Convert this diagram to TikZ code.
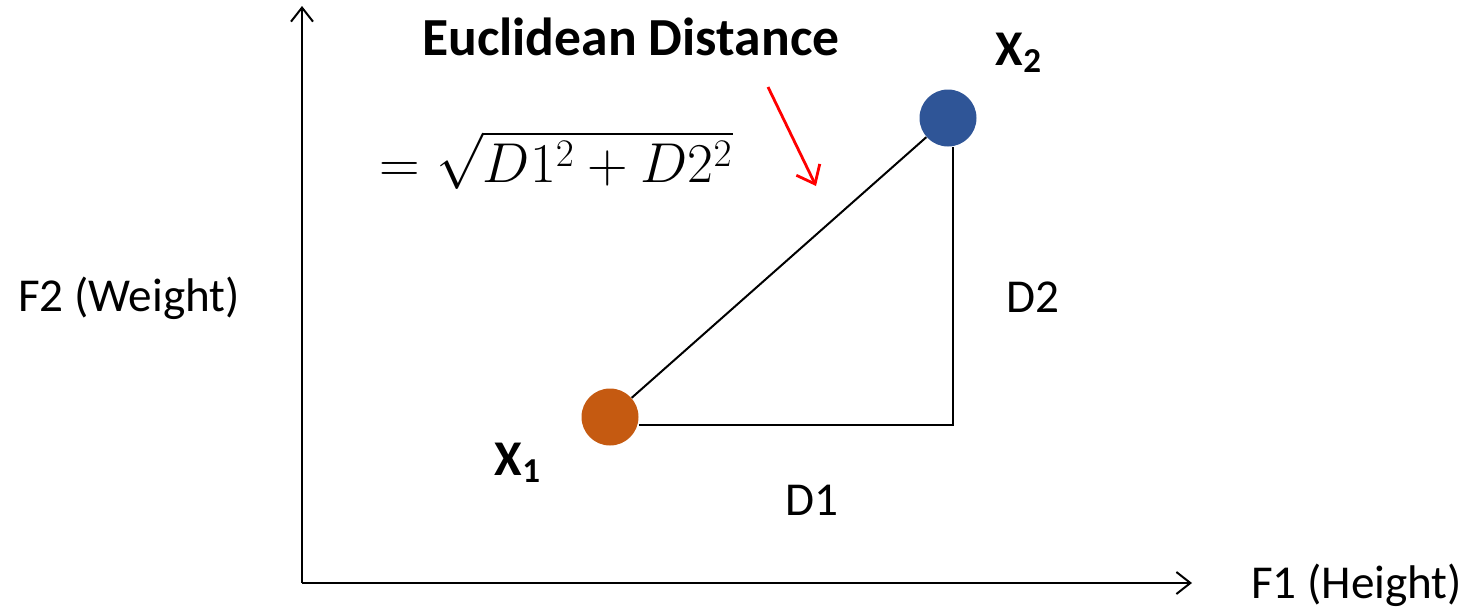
\documentclass[tikz,border=0pt]{standalone}
\usepackage{amsmath}
\usepackage{fontspec}
\setmainfont{Carlito}
\usetikzlibrary{arrows.meta}

\definecolor{ptorange}{HTML}{C55A11}
\definecolor{ptblue}{HTML}{2F5597}

\begin{document}
\begin{tikzpicture}[x=0.5pt, y=-0.5pt, >={Straight Barb[length=7pt, width=11pt]},
    axis/.style={->, line width=1pt},
    edge/.style={line width=1pt},
    pt/.style={circle, inner sep=0pt, minimum size=28.5pt},
    lbl/.style={font=\fontsize{23.6}{28}\selectfont},
    ptlbl/.style={font=\fontsize{25}{30}\selectfont\bfseries}]
  \useasboundingbox (0,0) rectangle (1463,611);
  % axes
  \coordinate (O) at (302,583);
  \coordinate (ytop) at (302,6);
  \coordinate (xend) at (1192,583);
  \draw[axis] (O) -- (ytop);
  \draw[axis] (O) -- (xend);
  \node[lbl, anchor=west] (f1) at (1244,585) {F1 (Height)};
  \node[lbl] (f2) at (129,298) {F2 (Weight)};
  % points
  \node[pt, fill=ptorange] (x1) at (610,417) {};
  \node[pt, fill=ptblue] (x2) at (948,118) {};
  \node[ptlbl] (x1l) at (518,463) {X\textsubscript{1}};
  \node[ptlbl] (x2l) at (1019,53) {X\textsubscript{2}};
  \coordinate (corner) at (953,425);
  \draw[edge] (x1) -- (x2);
  \draw[edge] (x1.east |- corner) -- (corner) -- (x2.south -| corner);
  \node[lbl] (d1) at (812,500) {D1};
  \node[lbl] (d2) at (1033,297) {D2};
  % formula
  \node[anchor=west, font=\fontsize{26.8}{32}\selectfont\bfseries] (title) at (415,37) {Euclidean Distance};
  \node[anchor=west, font=\fontsize{24}{30}\selectfont, scale=1.13, transform shape] (eq) at (372,160) {$=\sqrt{D1^2+D2^2}$};
  \coordinate (ra) at (768,87);
  \coordinate (rb) at (816,186);
  \draw[->, red, line width=1.4pt, >={Straight Barb[length=8pt, width=13pt]}] (ra) -- (rb);
\end{tikzpicture}
\end{document}
